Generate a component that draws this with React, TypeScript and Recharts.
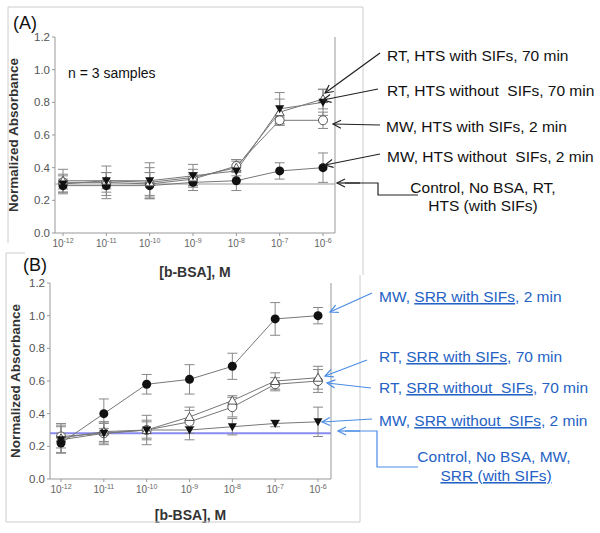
import React from 'react'
import { LineChart, Line, XAxis, YAxis, ErrorBar, ReferenceLine } from 'recharts'

// x categories: 10^exp M of b-BSA
const concExponents = ['-12', '-11', '-10', '-9', '-8', '-7', '-6']
const absorbanceTicks = [0, 0.2, 0.4, 0.6, 0.8, 1.0, 1.2]

// (A) HTS
const htsRtWith = [0.3, 0.32, 0.32, 0.35, 0.38, 0.76, 0.8]
const htsRtWithErr = [0.06, 0.09, 0.11, 0.07, 0.06, 0.1, 0.08]
const htsRtWithout = [0.32, 0.32, 0.31, 0.34, 0.4, 0.74, 0.82]
const htsRtWithoutErr = [0.07, 0.05, 0.09, 0.05, 0.05, 0.08, 0.06]
const htsMwWith = [0.31, 0.31, 0.3, 0.33, 0.41, 0.69, 0.69]
const htsMwWithErr = [0.04, 0.06, 0.07, 0.04, 0.04, 0.02, 0.05]
const htsMwWithout = [0.29, 0.29, 0.29, 0.31, 0.32, 0.38, 0.4]
const htsMwWithoutErr = [0.04, 0.08, 0.08, 0.05, 0.06, 0.05, 0.09]
const htsControl = 0.3

// (B) SRR
const srrMwWith = [0.22, 0.4, 0.58, 0.61, 0.69, 0.98, 1.0]
const srrMwWithErr = [0.06, 0.09, 0.06, 0.09, 0.08, 0.1, 0.05]
const srrRtWith = [0.25, 0.29, 0.3, 0.38, 0.48, 0.6, 0.62]
const srrRtWithErr = [0.09, 0.06, 0.09, 0.06, 0.03, 0.05, 0.07]
const srrRtWithout = [0.26, 0.28, 0.3, 0.35, 0.44, 0.58, 0.6]
const srrRtWithoutErr = [0.07, 0.06, 0.06, 0.07, 0.06, 0.04, 0.07]
const srrMwWithout = [0.24, 0.28, 0.3, 0.3, 0.32, 0.34, 0.35]
const srrMwWithoutErr = [0.08, 0.07, 0.05, 0.06, 0.05, 0.02, 0.09]
const srrControl = 0.28

const FONT = '"Liberation Sans", Arial, sans-serif'
const BLUE_TEXT = '#2462c4'
const BLUE_LINE = '#4a8ce6'

const htsRows = concExponents.map((exp, i) => ({
  exp,
  s1: htsMwWith[i], s1Err: htsMwWithErr[i],
  s2: htsMwWithout[i], s2Err: htsMwWithoutErr[i],
  s3: htsRtWithout[i], s3Err: htsRtWithoutErr[i],
  s4: htsRtWith[i], s4Err: htsRtWithErr[i],
}))

const srrRows = concExponents.map((exp, i) => ({
  exp,
  s1: srrRtWithout[i], s1Err: srrRtWithoutErr[i],
  s2: srrRtWith[i], s2Err: srrRtWithErr[i],
  s3: srrMwWithout[i], s3Err: srrMwWithoutErr[i],
  s4: srrMwWith[i], s4Err: srrMwWithErr[i],
}))

// marker shapes
const filledCircle = (p: any) => (
  <circle key={`${p.dataKey}-${p.index}`} cx={p.cx} cy={p.cy} r={4.5} fill="#111" />
)
const openCircle = (p: any) => (
  <circle key={`${p.dataKey}-${p.index}`} cx={p.cx} cy={p.cy} r={4.5} fill="#fff" stroke="#555" strokeWidth={1} />
)
const filledTriangleDown = (p: any) => (
  <polygon
    key={`${p.dataKey}-${p.index}`}
    points={`${p.cx - 4.5},${p.cy - 3.5} ${p.cx + 4.5},${p.cy - 3.5} ${p.cx},${p.cy + 4.5}`}
    fill="#111"
  />
)
const openTriangleUp = (p: any) => (
  <polygon
    key={`${p.dataKey}-${p.index}`}
    points={`${p.cx - 4.5},${p.cy + 3.5} ${p.cx + 4.5},${p.cy + 3.5} ${p.cx},${p.cy - 4.5}`}
    fill="#fff"
    stroke="#555"
  />
)

function PowerTick({ x, y, payload }: any) {
  return (
    <text x={x} y={y + 9} textAnchor="middle" fontSize={10} fill="#666" fontFamily={FONT}>
      10<tspan dy={-4} fontSize={7}>{payload.value}</tspan>
    </text>
  )
}

interface PanelProps {
  rows: any[]
  dots: ((p: any) => React.ReactElement)[]
  control: number
  controlColor: string
  controlWidth: number
  width: number
  height: number
  top: number
  plotTop: number
  xAxisHeight: number
  yWidth: number
  padding: { left: number; right: number }
  yLabelOffset: number
}

function Panel(props: PanelProps) {
  const axisStroke = '#999'
  const tickStyle = { fontSize: 11.5, fill: '#555', fontFamily: FONT }
  return (
    <div style={{ position: 'absolute', left: 0, top: props.top }}>
      <LineChart
        width={props.width}
        height={props.height}
        data={props.rows}
        margin={{ top: props.plotTop, right: 0, bottom: 0, left: 0 }}
      >
        <XAxis
          xAxisId="top"
          orientation="top"
          dataKey="exp"
          height={0}
          tick={false}
          tickLine={false}
          axisLine={{ stroke: axisStroke }}
          padding={props.padding}
        />
        <XAxis
          xAxisId="x"
          dataKey="exp"
          height={props.xAxisHeight}
          tick={<PowerTick />}
          tickSize={3}
          axisLine={{ stroke: axisStroke }}
          tickLine={{ stroke: axisStroke }}
          padding={props.padding}
          label={{
            value: '[b-BSA], M',
            position: 'insideBottom',
            offset: 13,
            style: { fontSize: 14, fontWeight: 'bold', fill: '#333', fontFamily: FONT },
          }}
        />
        <YAxis
          yAxisId="left"
          width={props.yWidth}
          domain={[0, 1.2]}
          ticks={absorbanceTicks}
          tickFormatter={(v) => Number(v).toFixed(1)}
          tick={tickStyle}
          tickSize={3}
          axisLine={{ stroke: axisStroke }}
          tickLine={{ stroke: axisStroke }}
          label={{
            value: 'Normalized Absorbance',
            angle: -90,
            position: 'insideLeft',
            offset: props.yLabelOffset,
            style: { textAnchor: 'middle', fontSize: 13.5, fontWeight: 'bold', fill: '#333', fontFamily: FONT },
          }}
        />
        <YAxis
          yAxisId="right"
          orientation="right"
          width={45}
          domain={[0, 1.2]}
          ticks={absorbanceTicks}
          tickFormatter={(v) => Number(v).toFixed(1)}
          tick={tickStyle}
          tickSize={3}
          axisLine={{ stroke: axisStroke }}
          tickLine={{ stroke: axisStroke }}
        />
        <ReferenceLine
          xAxisId="x"
          yAxisId="left"
          y={props.control}
          stroke={props.controlColor}
          strokeWidth={props.controlWidth}
        />
        {['s1', 's2', 's3', 's4'].map((key, i) => (
          <Line
            key={key}
            xAxisId="x"
            yAxisId="left"
            dataKey={key}
            stroke="#777"
            strokeWidth={1}
            dot={props.dots[i]}
            isAnimationActive={false}
          >
            <ErrorBar dataKey={`${key}Err`} direction="y" width={5} stroke="#888" strokeWidth={1} />
          </Line>
        ))}
      </LineChart>
    </div>
  )
}

function Arrow({ x1, y1, x2, y2, color }: { x1: number; y1: number; x2: number; y2: number; color: string }) {
  // open arrowhead at (x2, y2)
  const dx = x2 - x1
  const dy = y2 - y1
  const len = Math.sqrt(dx * dx + dy * dy)
  const ux = dx / len
  const uy = dy / len
  const bx = x2 - ux * 8
  const by = y2 - uy * 8
  const px = -uy * 4
  const py = ux * 4
  return (
    <g stroke={color} strokeWidth={1.2} fill="none">
      <line x1={x1} y1={y1} x2={x2} y2={y2} />
      <polyline points={`${bx + px},${by + py} ${x2},${y2} ${bx - px},${by - py}`} />
    </g>
  )
}

type Part = { t: string; u?: boolean }

function Label({ x, y, parts, color, anchor = 'start' }: { x: number; y: number; parts: Part[]; color: string; anchor?: string }) {
  return (
    <text x={x} y={y + 5} fontSize={15.5} fill={color} fontFamily={FONT} textAnchor={anchor}>
      {parts.map((p, i) => (
        <tspan key={i} style={p.u ? { textDecoration: 'underline' } : undefined}>
          {p.t}
        </tspan>
      ))}
    </text>
  )
}

export default function App() {
  return (
    <div
      style={{
        position: 'absolute',
        left: 0,
        top: 0,
        width: 600,
        height: 533,
        background: '#fff',
        overflow: 'hidden',
        fontFamily: FONT,
      }}
    >
      <Panel
        rows={htsRows}
        dots={[openCircle, filledCircle, openTriangleUp, filledTriangleDown]}
        control={htsControl}
        controlColor="#999"
        controlWidth={1}
        width={380}
        height={290}
        top={0}
        plotTop={37}
        xAxisHeight={57}
        yWidth={55}
        padding={{ left: 8, right: 12 }}
        yLabelOffset={13}
      />
      <Panel
        rows={srrRows}
        dots={[openCircle, openTriangleUp, filledTriangleDown, filledCircle]}
        control={srrControl}
        controlColor="#8a8cf2"
        controlWidth={2}
        width={376}
        height={287}
        top={246}
        plotTop={37}
        xAxisHeight={54}
        yWidth={50}
        padding={{ left: 11, right: 13 }}
        yLabelOffset={15}
      />
      <svg
        width={600}
        height={533}
        style={{ position: 'absolute', left: 0, top: 0, pointerEvents: 'none' }}
      >
        {/* panel frames */}
        <g stroke="#ccc" strokeWidth={1} fill="none">
          <polyline points="8,243 8,7 363,7 363,275" />
          <polyline points="25,253 6,253 6,522 360,522 360,275" />
        </g>
        <text x={13} y={29} fontSize={18} fill="#111" fontFamily={FONT}>(A)</text>
        <text x={23} y={271} fontSize={18} fill="#111" fontFamily={FONT}>(B)</text>
        <text x={68} y={78} fontSize={14} fill="#111" fontFamily={FONT}>n = 3 samples</text>

        {/* (A) annotations */}
        <Label x={387} y={56} parts={[{ t: 'RT, HTS with SIFs, 70 min' }]} color="#111" />
        <Label x={387} y={91} parts={[{ t: 'RT, HTS without\u00a0 SIFs, 70 min' }]} color="#111" />
        <Label x={386} y={127} parts={[{ t: 'MW, HTS with SIFs, 2 min' }]} color="#111" />
        <Label x={387} y={157} parts={[{ t: 'MW, HTS without\u00a0 SIFs, 2 min' }]} color="#111" />
        <Label x={483} y={188} parts={[{ t: 'Control, No BSA, RT,' }]} color="#111" anchor="middle" />
        <Label x={483} y={206} parts={[{ t: 'HTS (with SIFs)' }]} color="#111" anchor="middle" />
        <Arrow x1={380} y1={53} x2={325} y2={93} color="#222" />
        <Arrow x1={378} y1={89} x2={323} y2={100} color="#222" />
        <Arrow x1={380} y1={125} x2={333} y2={124} color="#222" />
        <Arrow x1={380} y1={154} x2={325} y2={165} color="#222" />
        <polyline points="418,195 378,195 378,183 345,183" stroke="#222" strokeWidth={1.2} fill="none" />
        <Arrow x1={360} y1={183} x2={337} y2={183} color="#222" />

        {/* (B) annotations */}
        <Label x={379} y={297} parts={[{ t: 'MW, ' }, { t: 'SRR with SIFs', u: true }, { t: ', 2 min' }]} color={BLUE_TEXT} />
        <Label x={379} y={357} parts={[{ t: 'RT, ' }, { t: 'SRR with SIFs', u: true }, { t: ', 70 min' }]} color={BLUE_TEXT} />
        <Label x={379} y={388} parts={[{ t: 'RT, ' }, { t: 'SRR without\u00a0 SIFs', u: true }, { t: ', 70 min' }]} color={BLUE_TEXT} />
        <Label x={379} y={421} parts={[{ t: 'MW, ' }, { t: 'SRR without\u00a0 SIFs', u: true }, { t: ', 2 min' }]} color={BLUE_TEXT} />
        <Label x={494} y={457} parts={[{ t: 'Control, No BSA, MW,' }]} color={BLUE_TEXT} anchor="middle" />
        <Label x={496} y={476} parts={[{ t: 'SRR (with SIFs)', u: true }]} color={BLUE_TEXT} anchor="middle" />
        <Arrow x1={372} y1={293} x2={330} y2={312} color={BLUE_LINE} />
        <Arrow x1={367} y1={360} x2={325} y2={376} color={BLUE_LINE} />
        <Arrow x1={371} y1={388} x2={327} y2={383} color={BLUE_LINE} />
        <Arrow x1={372} y1={419} x2={322} y2={422} color={BLUE_LINE} />
        <polyline points="418,467 377,467 377,431 345,431" stroke={BLUE_LINE} strokeWidth={1.2} fill="none" />
        <Arrow x1={360} y1={431} x2={338} y2={431} color={BLUE_LINE} />
      </svg>
    </div>
  )
}
